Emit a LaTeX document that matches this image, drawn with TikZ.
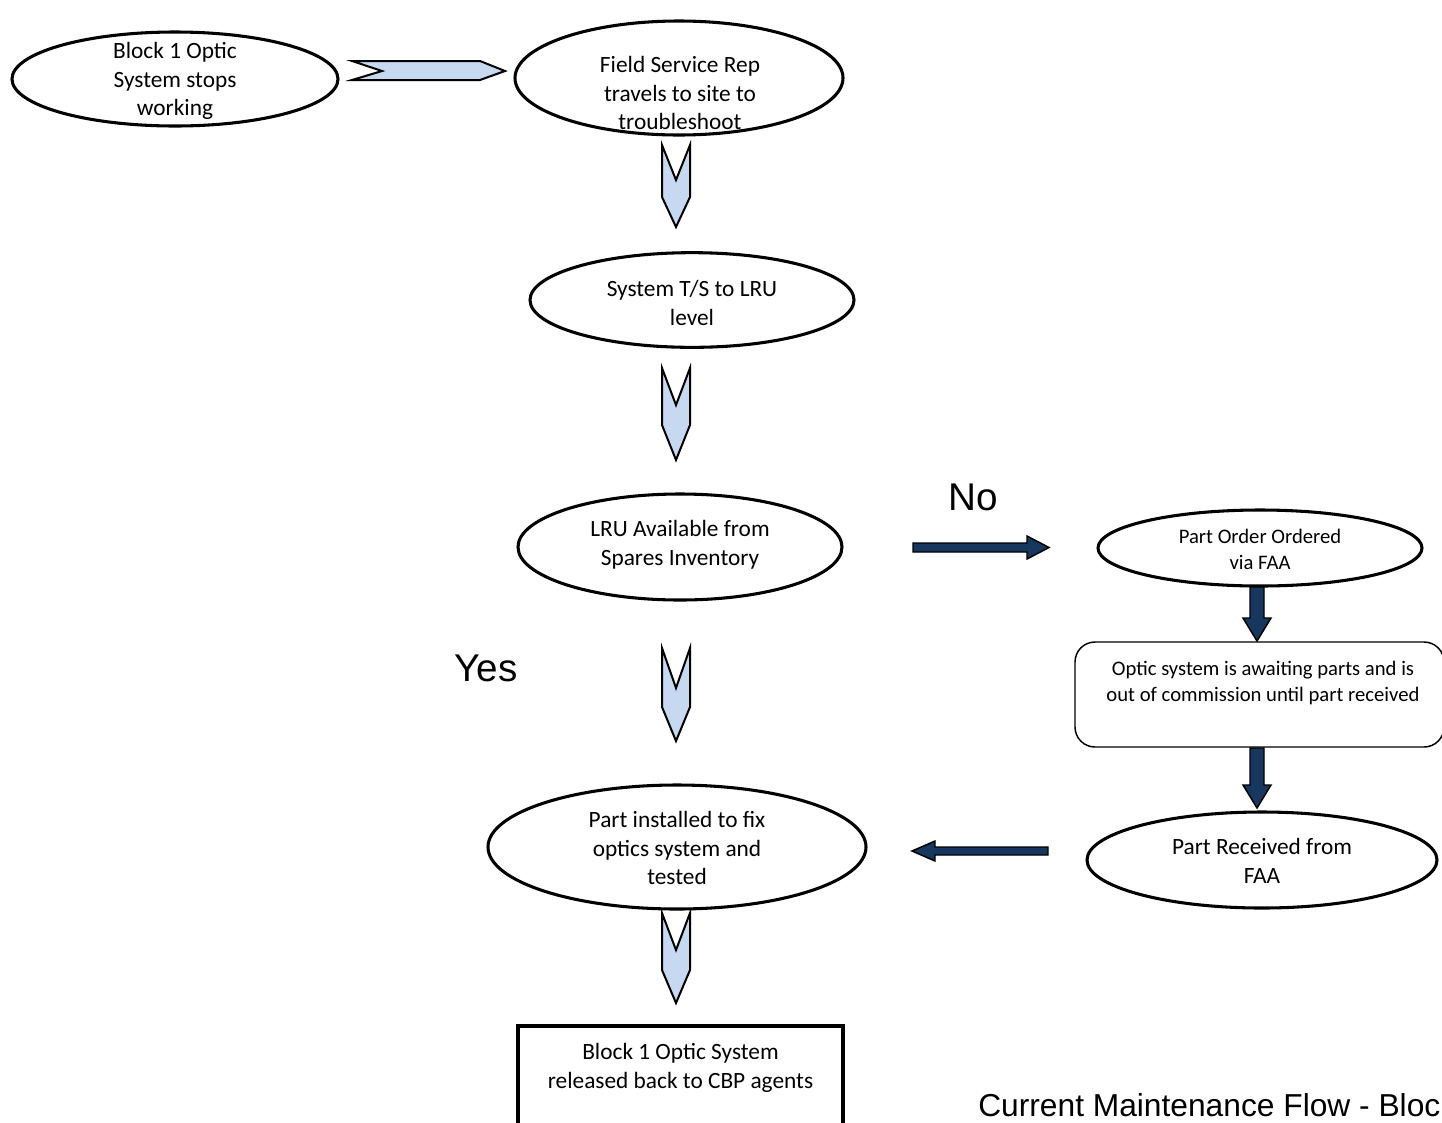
\documentclass[tikz,border=0pt]{standalone}
\usepackage{fontspec}
\setmainfont{Carlito}
\newfontfamily\arialf{Liberation Sans}
\usetikzlibrary{shapes.geometric}
\definecolor{chevfill}{RGB}{198,217,241}
\definecolor{navyblue}{RGB}{23,55,94}
\tikzset{
 oval/.style={ellipse, draw, line width=2.3pt, inner sep=0pt},
 txt/.style={align=center, font=\fontsize{17.5}{21.6}\selectfont, inner sep=0pt},
 stxt/.style={align=center, font=\fontsize{15.5}{19.5}\selectfont, inner sep=0pt},
 chev/.style={draw, fill=chevfill, line width=1.5pt, line join=miter},
 navyarrow/.style={draw=black, fill=navyblue, line width=1.1pt, line join=miter},
 boxn/.style={draw, line width=2.3pt, inner sep=0pt},
 rbox/.style={draw, line width=1.1pt, rounded corners=15pt, inner sep=0pt},
 bigtxt/.style={font=\arialf\fontsize{29}{34}\selectfont, inner sep=0pt},
 captxt/.style={font=\arialf\fontsize{23.8}{28}\selectfont, inner sep=0pt}
}
\begin{document}
\begin{tikzpicture}[x=0.75pt,y=-0.75pt]
\useasboundingbox (0,0) rectangle (1442,1122);
\clip (0,0) rectangle (1442,1122);

% ellipses
\node[oval, minimum width=244.5pt, minimum height=70.5pt] (e1) at (175,79) {};
\node[oval, minimum width=246pt, minimum height=85.5pt] (e2) at (679,78) {};
\node[oval, minimum width=243pt, minimum height=71pt] (e3) at (692,300) {};
\node[oval, minimum width=243pt, minimum height=79.5pt] (e4) at (680,547) {};
\node[oval, minimum width=283.5pt, minimum height=93pt] (e5) at (677,847) {};
\node[oval, minimum width=243pt, minimum height=57pt] (e6) at (1260,548) {};
\node[oval, minimum width=262.5pt, minimum height=72pt] (e7) at (1262,860) {};

% rectangles
\node[rbox, minimum width=276.75pt, minimum height=78.75pt] (r1) at (1259.5,694.5) {};
\node[boxn, minimum width=243.75pt, minimum height=78pt] (r2) at (680.5,1078) {};

% texts
\node[txt] (t1) at (175,81) {Block 1 Optic\\System stops\\working};
\node[txt] (t2) at (680,93) {Field Service Rep\\travels to site to\\troubleshoot};
\node[txt] (t3) at (692,303) {System T/S to LRU\\level};
\node[txt] (t4) at (680,545) {LRU Available from\\Spares Inventory};
\node[txt] (t5) at (677,848) {Part installed to fix\\optics system and\\tested};
\node[stxt] (t6) at (1260,549) {Part Order Ordered\\via FAA};
\node[stxt] (t7) at (1263,683) {Optic system is awaiting parts and is\\out of commission until part received};
\node[txt] (t8) at (1262,861) {Part Received from\\FAA};
\node[txt] (t9) at (680.5,1068) {Block 1 Optic System\\released back to CBP agents};

\node[bigtxt] (no) at (973,497) {No};
\node[bigtxt] (yes) at (486,668) {Yes};
\node[captxt, anchor=base west] (cap) at (978,1116) {Current Maintenance Flow - Bloc};

% light chevrons
\draw[chev] (352,61) -- (382,71) -- (352,80) -- (480,80) -- (505,71) -- (480,61) -- cycle;
\draw[chev] (662,145) -- (676,180) -- (690,145) -- (690,197) -- (676,227) -- (662,197) -- cycle;
\draw[chev] (662,368) -- (676,405) -- (690,368) -- (690,425) -- (676,460) -- (662,425) -- cycle;
\draw[chev] (662,648) -- (676,688) -- (690,648) -- (690,707) -- (676,741) -- (662,707) -- cycle;
\draw[chev] (662,913) -- (676,950) -- (690,913) -- (690,970) -- (676,1003) -- (662,970) -- cycle;

% navy block arrows
\draw[navyarrow] (913,543) -- (1027,543) -- (1027,536) -- (1049,547.5) -- (1027,559) -- (1027,552) -- (913,552) -- cycle;
\draw[navyarrow] (1048,847) -- (935,847) -- (935,841) -- (912,851) -- (935,861) -- (935,855) -- (1048,855) -- cycle;
\draw[navyarrow] (1250,587) -- (1264,587) -- (1264,618) -- (1271,618) -- (1257,641) -- (1243,618) -- (1250,618) -- cycle;
\draw[navyarrow] (1250,748) -- (1264,748) -- (1264,785) -- (1271,785) -- (1257,808) -- (1243,785) -- (1250,785) -- cycle;
\end{tikzpicture}
\end{document}
